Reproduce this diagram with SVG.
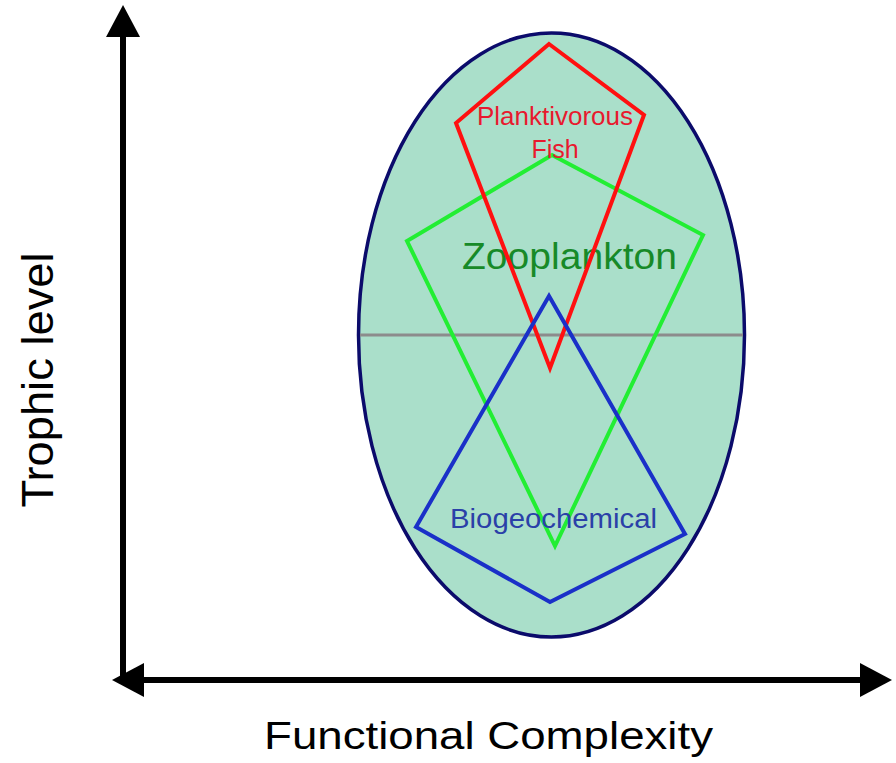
<svg xmlns="http://www.w3.org/2000/svg" width="896" height="763" viewBox="0 0 896 763">
<style>
.lbl{font-family:"Liberation Sans",Arial,sans-serif}
.axis{stroke:#000;stroke-width:6;fill:none}
.poly{fill:none;stroke-width:4;stroke-linejoin:miter}
</style>
<defs>
<marker id="ah" viewBox="0 0 32 34" refX="12" refY="17" markerWidth="32" markerHeight="34" markerUnits="userSpaceOnUse" orient="auto-start-reverse">
<path d="M0,0 L32,17 L0,34 z" fill="#000"/>
</marker>
</defs>
<rect width="896" height="763" fill="#fff"/>
<g id="connectors">
<line class="axis" x1="123" y1="683" x2="123" y2="25" marker-end="url(#ah)"/>
<line class="axis" x1="132" y1="680" x2="872" y2="680" marker-start="url(#ah)" marker-end="url(#ah)"/>
</g>
<g id="ellipse">
<ellipse cx="551.5" cy="335" rx="193" ry="302" fill="#aadfca" stroke="#0b0b6b" stroke-width="3.5"/>
<line x1="360" y1="335" x2="743" y2="335" stroke="#8c8c8c" stroke-width="3"/>
</g>
<g id="zooplankton">
<polygon class="poly" stroke="#22ee33" points="552,155 703,235 555,546 407,241"/>
<text class="lbl" x="462" y="269" font-size="37" fill="#178a28" textLength="215" lengthAdjust="spacingAndGlyphs">Zooplankton</text>
</g>
<g id="planktivorous-fish">
<polygon class="poly" stroke="#ff1010" points="549,44 644,115 550,368 456,123"/>
<text class="lbl" x="477" y="125" font-size="25" fill="#e8192e" textLength="156" lengthAdjust="spacingAndGlyphs">Planktivorous</text>
<text class="lbl" x="555" y="158" font-size="25" fill="#e8192e" text-anchor="middle">Fish</text>
</g>
<g id="biogeochemical">
<polygon class="poly" stroke="#1a30c8" points="549,296 685,534 550,602 416,527"/>
<text class="lbl" x="450" y="528" font-size="27" fill="#2a40a8" textLength="207" lengthAdjust="spacingAndGlyphs">Biogeochemical</text>
</g>
<g id="axis-labels">
<text class="lbl" transform="translate(53,380) rotate(-90)" font-size="44" fill="#000" text-anchor="middle" textLength="255" lengthAdjust="spacingAndGlyphs">Trophic level</text>
<text class="lbl" x="264" y="749" font-size="38" fill="#000" textLength="449" lengthAdjust="spacingAndGlyphs">Functional Complexity</text>
</g>
</svg>
